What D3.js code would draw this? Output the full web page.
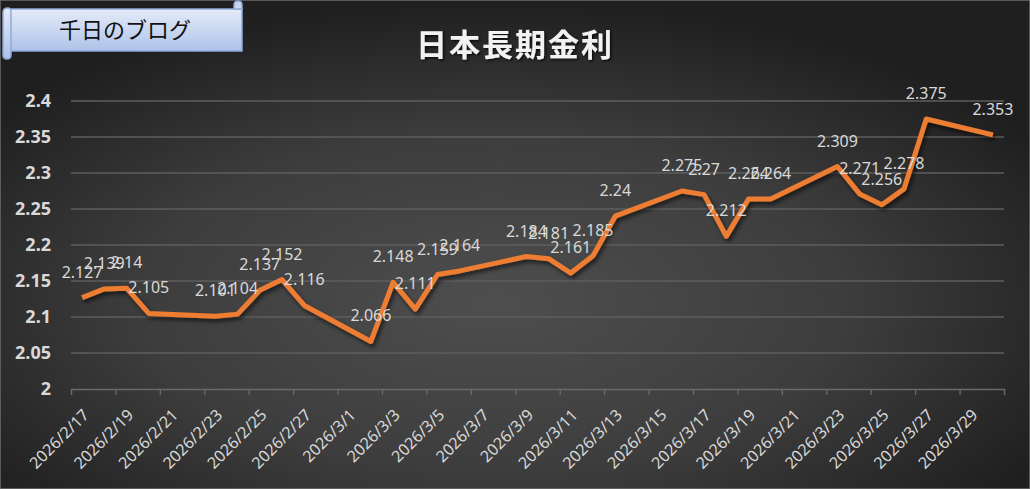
<!DOCTYPE html>
<html>
<head>
<meta charset="utf-8">
<script src="https://cdn.jsdelivr.net/npm/d3@7"></script>
<style>
	body { margin: 0; background: #2a2a2a; }
	svg { display: block; }
</style>
</head>
<body>
<div id="chart"></div>
<script>
// data (trading days)
var dates = [
	'2026/2/17', '2026/2/18', '2026/2/19', '2026/2/20', '2026/2/23', '2026/2/24',
	'2026/2/25', '2026/2/26', '2026/2/27', '2026/3/2', '2026/3/3', '2026/3/4',
	'2026/3/5', '2026/3/6', '2026/3/9', '2026/3/10', '2026/3/11', '2026/3/12',
	'2026/3/13', '2026/3/16', '2026/3/17', '2026/3/18', '2026/3/19', '2026/3/20',
	'2026/3/23', '2026/3/24', '2026/3/25', '2026/3/26', '2026/3/27', '2026/3/30'
];
var rates = [
	2.127, 2.139, 2.14, 2.105, 2.101, 2.104,
	2.137, 2.152, 2.116, 2.066, 2.148, 2.111,
	2.159, 2.164, 2.184, 2.181, 2.161, 2.185,
	2.24, 2.275, 2.27, 2.212, 2.264, 2.264,
	2.309, 2.271, 2.256, 2.278, 2.375, 2.353
];
var y_ticks = [2, 2.05, 2.1, 2.15, 2.2, 2.25, 2.3, 2.35, 2.4];
var axis_start = '2026/2/17';
var axis_end = '2026/3/31';

var title = '日本長期金利';
var badge = '千日のブログ';

var parse = d3.timeParse('%Y/%m/%d');
var fmt = d => d.getFullYear() + '/' + (d.getMonth() + 1) + '/' + d.getDate();

var W = 1030, H = 489;
var margin = {top: 101, right: 26, bottom: 100, left: 71};

var svg = d3.select('#chart')
	.append('svg')
	.attr('width', W)
	.attr('height', H);

var defs = svg.append('defs');

// background gradient
var bg = defs.append('radialGradient')
	.attr('id', 'bg')
	.attr('cx', '48%').attr('cy', '62%').attr('r', '62%');
bg.append('stop').attr('offset', '0%').attr('stop-color', '#4e4e4e');
bg.append('stop').attr('offset', '55%').attr('stop-color', '#3d3d3d');
bg.append('stop').attr('offset', '100%').attr('stop-color', '#1f1f1f');

var badge_grad = defs.append('linearGradient')
	.attr('id', 'badge').attr('x1', 0).attr('y1', 0).attr('x2', 0).attr('y2', 1);
badge_grad.append('stop').attr('offset', '0%').attr('stop-color', '#e4ebf8');
badge_grad.append('stop').attr('offset', '100%').attr('stop-color', '#aec3e9');

var shadow = defs.append('filter').attr('id', 'shadow')
	.attr('x', '-10%').attr('y', '-10%').attr('width', '120%').attr('height', '130%');
shadow.append('feDropShadow')
	.attr('dx', 2).attr('dy', 3).attr('stdDeviation', 2)
	.attr('flood-color', '#000').attr('flood-opacity', 0.6);

var tshadow = defs.append('filter').attr('id', 'tshadow');
tshadow.append('feDropShadow')
	.attr('dx', 1.5).attr('dy', 1.5).attr('stdDeviation', 1)
	.attr('flood-color', '#000').attr('flood-opacity', 0.7);

svg.append('rect')
	.attr('width', W).attr('height', H)
	.attr('fill', 'url(#bg)')
	.attr('stroke', '#6e6e6e')
	.attr('stroke-width', 1.5);

// scales
var x = d3.scaleTime()
	.domain([parse(axis_start), parse(axis_end)])
	.range([margin.left, W - margin.right]);
var y = d3.scaleLinear()
	.domain([2, 2.4])
	.range([H - margin.bottom, margin.top]);

var half_day = (x(d3.timeDay.offset(parse(axis_start), 1)) - x(parse(axis_start))) / 2;
var px = d => x(parse(d)) + half_day;

// grid
svg.append('g')
	.selectAll('line')
	.data(y_ticks.slice(1))
	.enter()
	.append('line')
		.attr('x1', margin.left)
		.attr('x2', W - margin.right)
		.attr('y1', d => y(d))
		.attr('y2', d => y(d))
		.attr('stroke', '#5e5e5e')
		.attr('stroke-width', 1.3);

// y axis labels
svg.append('g')
	.selectAll('text')
	.data(y_ticks)
	.enter()
	.append('text')
		.attr('x', 51)
		.attr('y', d => y(d))
		.attr('dy', '0.36em')
		.attr('text-anchor', 'end')
		.style('font-family', '"Noto Sans", sans-serif')
		.style('font-weight', 'bold')
		.style('font-size', '18px')
		.style('fill', '#d9d9d9')
		.text(d => d);

// x axis
var x_ticks = d3.timeDay.range(parse(axis_start), d3.timeDay.offset(parse(axis_end), 1), 2);
var x_axis = svg.append('g')
	.attr('transform', 'translate(0,' + (H - margin.bottom) + ')')
	.call(d3.axisBottom(x).tickValues(x_ticks).tickSize(6).tickFormat(''));
x_axis.selectAll('line, path').attr('stroke', '#6a6a6a').attr('stroke-width', 1.3);

svg.append('g')
	.selectAll('text')
	.data(x_ticks.slice(0, -1))
	.enter()
	.append('text')
		.attr('transform', d => 'translate(' + (x(d) + half_day + 4) + ',' + (H - margin.bottom + 23) + ') rotate(-45)')
		.attr('dy', '0.35em')
		.attr('text-anchor', 'end')
		.style('font-family', '"Noto Sans", sans-serif')
		.style('font-size', '16px')
		.style('fill', '#d9d9d9')
		.text(d => fmt(d));

// line
var line = d3.line()
	.x(d => px(d[0]))
	.y(d => y(d[1]));
var points = d3.zip(dates, rates);

svg.append('path')
	.datum(points)
	.attr('d', line)
	.attr('fill', 'none')
	.attr('stroke', '#ed7d31')
	.attr('stroke-width', 5)
	.attr('stroke-linejoin', 'round')
	.attr('filter', 'url(#shadow)');

// data labels
svg.append('g')
	.selectAll('text')
	.data(points)
	.enter()
	.append('text')
		.attr('x', d => px(d[0]))
		.attr('y', d => y(d[1]) - 20)
		.attr('text-anchor', 'middle')
		.style('font-family', '"Noto Sans", sans-serif')
		.style('font-size', '16px')
		.style('fill', '#d9d9d9')
		.text(d => d[1]);

// title
svg.append('text')
	.attr('x', 515)
	.attr('y', 56)
	.attr('text-anchor', 'middle')
	.attr('filter', 'url(#tshadow)')
	.style('font-family', '"Noto Sans CJK JP", sans-serif')
	.style('font-weight', 'bold')
	.style('font-size', '31px')
	.style('letter-spacing', '2px')
	.style('fill', '#f2f2f2')
	.text(title);

// badge (scroll shape)
var b = svg.append('g');
b.append('path')
	.attr('d', 'M8,9 H242 V51 H8 Z')
	.attr('fill', 'url(#badge)')
	.attr('stroke', '#8faadc')
	.attr('stroke-width', 1.5);
b.append('path')
	.attr('d', 'M3,12 Q3,8 8,8 Q11,8 11,12 V55 Q11,59 7,59 Q3,59 3,55 Z')
	.attr('fill', 'url(#badge)')
	.attr('stroke', '#8faadc')
	.attr('stroke-width', 1.5);
b.append('path')
	.attr('d', 'M234,5 Q234,1 238,1 Q242,1 242,5 V9 H234 Z')
	.attr('fill', '#c9d6f0')
	.attr('stroke', '#8faadc')
	.attr('stroke-width', 1.5);
b.append('text')
	.attr('x', 125)
	.attr('y', 38)
	.attr('text-anchor', 'middle')
	.style('font-family', '"Noto Sans CJK JP", sans-serif')
	.style('font-size', '22px')
	.style('fill', '#111')
	.text(badge);
</script>
</body>
</html>
